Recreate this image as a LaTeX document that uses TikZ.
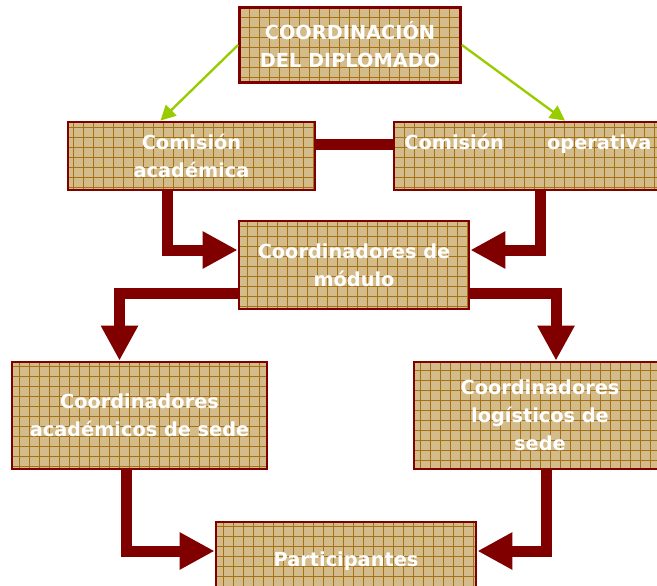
\documentclass[tikz,border=0pt]{standalone}
\usepackage{fontspec}
\setmainfont{DejaVu Sans}
\usetikzlibrary{arrows.meta}

\definecolor{boxfill}{RGB}{212,187,138}
\definecolor{gridbrown}{RGB}{164,112,24}
\definecolor{darkred}{RGB}{128,0,0}
\definecolor{limegreen}{RGB}{153,204,0}

\begin{document}
\begin{tikzpicture}[x=0.03cm, y=-0.03cm]

% parameters %{{{1

	\def\pix{0.03cm}

	\tikzset{
		orgbox/.style={draw=darkred, line width=2.4pt, fill=boxfill,
			text=white, align=center, inner sep=2pt,
			font=\bfseries\fontsize{16.5}{24}\selectfont,
			path picture={
				\draw[gridbrown, line width=0.7pt]
					(path picture bounding box.north west) grid[step=0.3cm]
					(path picture bounding box.south east);
			}},
		bigarrow/.style={draw=darkred, line width=11*\pix, line join=miter,
			-{Triangle[length=35*\pix, width=35*\pix]}},
		greenarrow/.style={draw=limegreen, line width=2pt,
			-{Triangle[length=15*\pix, width=15*\pix]}},
	}

	\clip (0,0) rectangle (657,585);

% boxes %{{{1

	\node[orgbox, minimum width=221*\pix, minimum height=75*\pix]
		(coord) at (350,45) {COORDINACIÓN\\DEL DIPLOMADO};

	\node[orgbox, minimum width=247*\pix, minimum height=68*\pix]
		(acad) at (191.5,156) {Comisión\\académica};
	\node[orgbox, minimum width=268*\pix, minimum height=68*\pix]
		(oper) at (528,156) {Comisión\hspace{1.3cm}operativa\\~};

	\node[orgbox, minimum width=230*\pix, minimum height=88*\pix]
		(modulo) at (354,265) {Coordinadores de\\módulo};

	\node[orgbox, minimum width=255*\pix, minimum height=107*\pix]
		(sedeA) at (139.5,415.5) {Coordinadores\\académicos de sede};
	\node[orgbox, minimum width=252*\pix, minimum height=107*\pix]
		(sedeL) at (540,415.5) {Coordinadores\\logísticos de\\sede};

	\node[orgbox, minimum width=260*\pix, minimum height=78*\pix]
		(part) at (346,561) {Participantes};

% connectors %{{{1

	\draw[greenarrow] (coord.west) -- ([xshift=-31*\pix]acad.north);
	\draw[greenarrow] (coord.east) -- ([xshift=37*\pix]oper.north);

	\draw[darkred, line width=11*\pix]
		([yshift=12*\pix]acad.east) -- ([yshift=12*\pix]oper.west);

	\draw[bigarrow] ([xshift=-24*\pix]acad.south) |- ([yshift=15*\pix]modulo.west);
	\draw[bigarrow] ([xshift=12*\pix]oper.south) |- ([yshift=15*\pix]modulo.east);

	\draw[bigarrow] ([yshift=-28*\pix]modulo.west) -| ([xshift=-20*\pix]sedeA.north);
	\draw[bigarrow] ([yshift=-28*\pix]modulo.east) -| ([xshift=16*\pix]sedeL.north);

	\draw[bigarrow] ([xshift=-13*\pix]sedeA.south) |- ([yshift=10*\pix]part.west);
	\draw[bigarrow] ([xshift=6*\pix]sedeL.south) |- ([yshift=10*\pix]part.east);

% closing %{{{1

\end{tikzpicture}
\end{document}
